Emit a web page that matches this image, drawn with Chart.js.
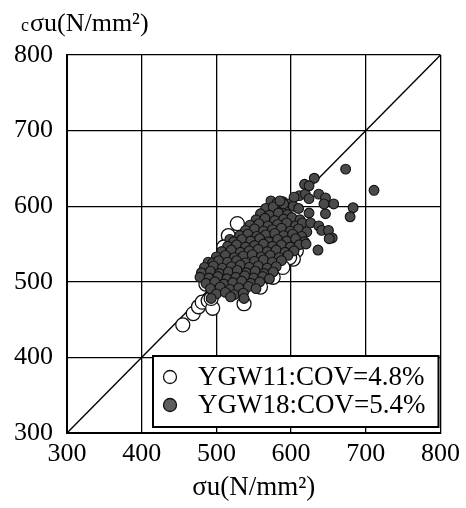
<!DOCTYPE html>
<html>
<head>
<meta charset="utf-8">
<script src="https://cdn.jsdelivr.net/npm/chart.js@4.4.1/dist/chart.umd.min.js"></script>
<style>
    html, body { margin: 0; padding: 0; background: #fff; }
    #wrap { width: 466px; height: 508px; }
</style>
</head>
<body>
<div id="wrap"><canvas id="chart" width="466" height="508"></canvas></div>
<script>
// axis range and ticks
const axisMin = 300;
const axisMax = 800;
const tickStep = 100;

// 1:1 reference line
const diagX = [300, 800];
const diagY = [300, 800];

// YGW11 (open circles): [σu, cσu]
const ygw11 = [
    [455, 443], [469, 458], [476, 467], [481, 473], [489, 475], [495, 465], [493, 478], [537, 471],
    [528, 577], [516, 561], [519, 548], [510, 532], [502, 528], [485, 511], [486, 497], [559, 493],
    [515, 489], [607, 541], [603, 530], [598, 532], [589, 519], [576, 506], [572, 585], [578, 581],
    [497, 489], [510, 546], [512, 531], [548, 500], [565, 510], [530, 520], [540, 530], [560, 540],
    [550, 560], [580, 550], [590, 560], [595, 545], [585, 535], [535, 490], [570, 525], [545, 515]
];

// YGW18 (filled circles): [σu, cσu]
const ygw18 = [
    [573, 607], [581, 604], [589, 606], [597, 603],
    [566, 597], [576, 599], [591, 596], [603, 600], [610, 597],
    [559, 590], [571, 588], [583, 591], [595, 589], [624, 591], [646, 590],
    [553, 582], [565, 584], [578, 581], [590, 583], [601, 585], [612, 582],
    [545, 575], [557, 577], [569, 574], [582, 576], [594, 578], [606, 574], [615, 578], [626, 578], [637, 574],
    [539, 568], [551, 570], [563, 567], [575, 569], [587, 571], [599, 567], [610, 570], [621, 566], [641, 568], [650, 568],
    [531, 561], [542, 563], [554, 560], [566, 562], [578, 564], [590, 561], [602, 563], [614, 560], [655, 558],
    [518, 556], [523, 553], [534, 556], [546, 554], [558, 557], [570, 553], [582, 556], [594, 554], [606, 557], [618, 553],
    [515, 547], [527, 549], [539, 546], [551, 548], [563, 550], [575, 547], [587, 549], [599, 546], [611, 549], [620, 550],
    [507, 540], [520, 542], [532, 539], [544, 541], [556, 543], [568, 540], [580, 542], [592, 539], [604, 541], [636, 542],
    [500, 533], [512, 535], [524, 532], [536, 534], [548, 536], [560, 533], [572, 535], [584, 532], [596, 535],
    [489, 526], [495, 525], [503, 528], [515, 526], [527, 528], [539, 525], [551, 527], [563, 529], [575, 526], [587, 528],
    [484, 519], [496, 521], [508, 518], [520, 520], [532, 522], [544, 519], [556, 521], [568, 518], [580, 520],
    [480, 512], [492, 514], [504, 511], [516, 513], [528, 515], [540, 512], [552, 514], [564, 511], [576, 513],
    [478, 506], [490, 505], [502, 507], [514, 504], [526, 506], [538, 508], [550, 505], [562, 507], [571, 504],
    [486, 498], [498, 500], [510, 497], [522, 499], [534, 501], [546, 498], [558, 500],
    [492, 491], [505, 493], [518, 490], [530, 492], [543, 494], [553, 491],
    [500, 484], [512, 486], [524, 483], [536, 485],
    [493, 478], [519, 480], [537, 478],
    [611, 614], [619, 616], [631, 637], [618, 629], [624, 627], [624, 610], [637, 616], [646, 611],
    [657, 603], [644, 603], [673, 649], [711, 621], [683, 598], [679, 586], [651, 557], [604, 612],
    [590, 603], [585, 607]
];

const seriesLabels = ['YGW11:COV=4.8%', 'YGW18:COV=5.4%'];

const serif = "'Liberation Serif', 'DejaVu Serif', serif";
const toPts = arr => arr.map(p => ({ x: p[0], y: p[1] }));

// y title drawn horizontally above the axis, legend boxed inside the plot
const extras = {
    id: 'extras',
    afterDraw(chart) {
        const ctx = chart.ctx;
        const area = chart.chartArea;
        ctx.save();
        ctx.fillStyle = '#000';
        ctx.textBaseline = 'alphabetic';
        ctx.textAlign = 'left';
        ctx.font = `18px ${serif}`;
        ctx.fillText('c', 21, 31);
        ctx.font = `26px ${serif}`;
        ctx.fillText('σu(N/mm²)', 30, 31);

        // legend
        const bx = area.left + 86, by = area.bottom - 77;
        const bw = area.right - 2 - bx, bh = 71;
        ctx.fillStyle = '#fff';
        ctx.fillRect(bx, by, bw, bh);
        ctx.lineWidth = 2;
        ctx.strokeStyle = '#000';
        ctx.strokeRect(bx, by, bw, bh);
        const sets = [chart.data.datasets[0], chart.data.datasets[1]];
        sets.forEach((ds, i) => {
            const cy = by + 21 + i * 28;
            ctx.beginPath();
            ctx.arc(bx + 17, cy, 6.5, 0, Math.PI * 2);
            ctx.fillStyle = i === 0 ? '#fff' : '#5e5e5e';
            ctx.fill();
            ctx.lineWidth = 1.3;
            ctx.strokeStyle = '#111';
            ctx.stroke();
            ctx.fillStyle = '#000';
            ctx.font = `27px ${serif}`;
            ctx.textBaseline = 'middle';
            ctx.fillText(ds.label, bx + 45, cy + 1);
        });
        ctx.restore();
    }
};

const axisCommon = {
    type: 'linear',
    min: axisMin,
    max: axisMax,
    grid: { color: '#000', lineWidth: 1.3, drawTicks: false },
    border: { color: '#000', width: 2 }
};

new Chart(document.getElementById('chart'), {
    type: 'scatter',
    data: {
        datasets: [
            {
                label: seriesLabels[0],
                data: toPts(ygw11),
                pointRadius: 7,
                pointBackgroundColor: '#fff',
                pointBorderColor: '#111',
                pointBorderWidth: 1.3,
                order: 2
            },
            {
                label: seriesLabels[1],
                data: toPts(ygw18),
                pointRadius: 4.9,
                pointBackgroundColor: '#4a4a4a',
                pointBorderColor: '#111',
                pointBorderWidth: 1.1,
                order: 1
            },
            {
                label: '1:1',
                data: diagX.map((x, i) => ({ x, y: diagY[i] })),
                showLine: true,
                pointRadius: 0,
                borderColor: '#000',
                borderWidth: 1.4,
                order: 3
            }
        ]
    },
    options: {
        responsive: false,
        animation: false,
        layout: { padding: { top: 55, right: 20, left: 0, bottom: 0 } },
        plugins: { legend: { display: false }, tooltip: { enabled: false } },
        scales: {
            x: {
                ...axisCommon,
                ticks: { stepSize: tickStep, color: '#000', font: { family: serif, size: 26 }, padding: 6, maxRotation: 0 },
                title: { display: true, text: 'σu(N/mm²)', color: '#000', font: { family: serif, size: 27 }, padding: { top: 0, bottom: 4 } },
                afterFit(scale) { scale.height = 75; }
            },
            y: {
                ...axisCommon,
                ticks: { stepSize: tickStep, color: '#000', font: { family: serif, size: 26 }, padding: 14 },
                afterFit(scale) { scale.width = 67; }
            }
        }
    },
    plugins: [extras]
});
</script>
</body>
</html>
